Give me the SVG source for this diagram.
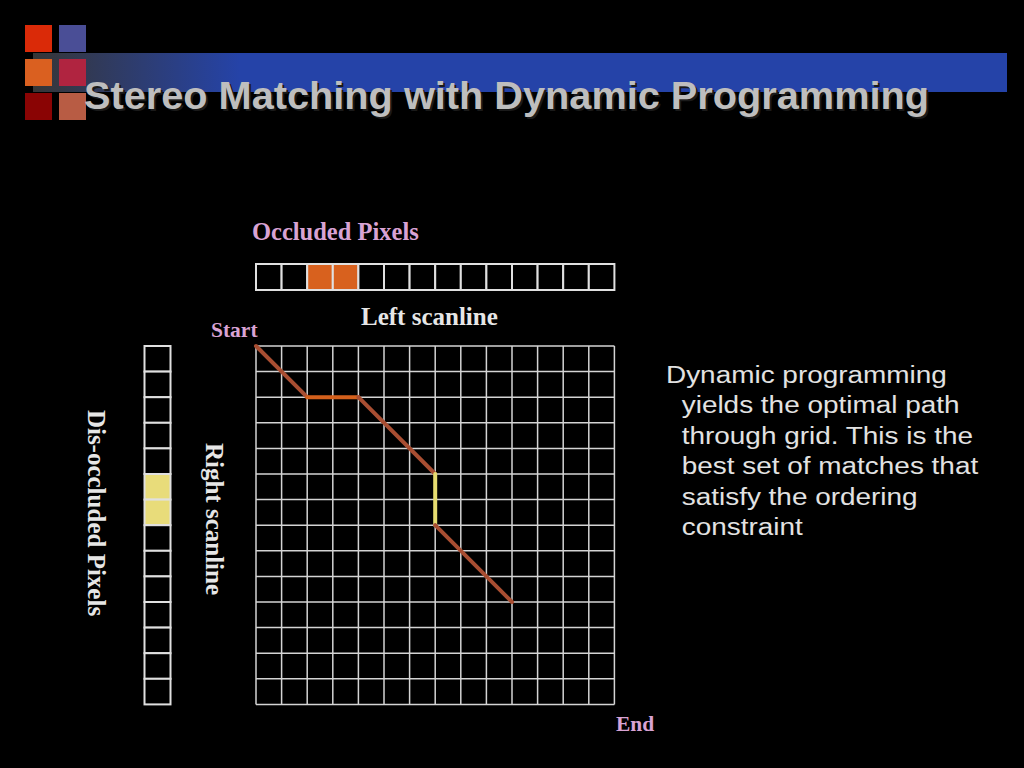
<svg xmlns="http://www.w3.org/2000/svg" width="1024" height="768" viewBox="0 0 1024 768">
  <defs>
    <linearGradient id="band" gradientUnits="userSpaceOnUse" x1="33" y1="0" x2="240" y2="0">
      <stop offset="0" stop-color="#363636"/>
      <stop offset="1" stop-color="#2543A8"/>
    </linearGradient>
    <style>
      .title { font-family: "Liberation Sans", Arial, sans-serif; font-weight: bold; font-size: 39px; }
      .lbl { font-family: "Liberation Serif", "Times New Roman", serif; font-weight: bold; font-size: 25px; fill: #E6E6E6; }
      .pink { fill: #D9A3D4; }
      .small { font-size: 21.5px; }
      .body { font-family: "Liberation Sans", Arial, sans-serif; font-size: 24.5px; fill: #E2E2E2; }
      .cell { fill: #000; stroke: #E0E0E0; stroke-width: 2; }
      .grid line { stroke: #D4D4D4; stroke-width: 1.5; }
      .seg { fill: none; stroke-width: 4; stroke-linecap: round; stroke-linejoin: round; }
    </style>
  </defs>
  <rect width="1024" height="768" fill="#000"/>

  <g id="title-decor">
    <rect x="33" y="53" width="974" height="39" fill="url(#band)"/>
    <rect x="25" y="25" width="27" height="27" fill="#DA2A08"/>
    <rect x="59" y="25" width="27" height="27" fill="#4A4E96"/>
    <rect x="25" y="59" width="27" height="27" fill="#DA6020"/>
    <rect x="59" y="59" width="27" height="27" fill="#B02440"/>
    <rect x="25" y="93" width="27" height="27" fill="#8A0404"/>
    <rect x="59" y="93" width="27" height="27" fill="#B85C44"/>
  </g>
  <g id="title">
    <text class="title" x="86" y="111" fill="#1A1A1A" textLength="845" lengthAdjust="spacingAndGlyphs">Stereo Matching with Dynamic Programming</text>
    <text class="title" x="84" y="109" fill="#BEBEBE" textLength="845" lengthAdjust="spacingAndGlyphs">Stereo Matching with Dynamic Programming</text>
  </g>

  <g id="left-scanline">
    <rect class="cell" x="256" y="264" width="25.6" height="26"/>
    <rect class="cell" x="281.6" y="264" width="25.6" height="26"/>
    <rect class="cell" x="307.2" y="264" width="25.6" height="26" style="fill:#D8611E"/>
    <rect class="cell" x="332.8" y="264" width="25.6" height="26" style="fill:#D8611E"/>
    <rect class="cell" x="358.4" y="264" width="25.6" height="26"/>
    <rect class="cell" x="384" y="264" width="25.6" height="26"/>
    <rect class="cell" x="409.6" y="264" width="25.6" height="26"/>
    <rect class="cell" x="435.2" y="264" width="25.6" height="26"/>
    <rect class="cell" x="460.8" y="264" width="25.6" height="26"/>
    <rect class="cell" x="486.4" y="264" width="25.6" height="26"/>
    <rect class="cell" x="512" y="264" width="25.6" height="26"/>
    <rect class="cell" x="537.6" y="264" width="25.6" height="26"/>
    <rect class="cell" x="563.2" y="264" width="25.6" height="26"/>
    <rect class="cell" x="588.8" y="264" width="25.6" height="26"/>
  </g>

  <g id="right-scanline">
    <rect class="cell" x="144.5" y="346" width="26" height="25.6"/>
    <rect class="cell" x="144.5" y="371.6" width="26" height="25.6"/>
    <rect class="cell" x="144.5" y="397.2" width="26" height="25.6"/>
    <rect class="cell" x="144.5" y="422.8" width="26" height="25.6"/>
    <rect class="cell" x="144.5" y="448.4" width="26" height="25.6"/>
    <rect class="cell" x="144.5" y="474" width="26" height="25.6" style="fill:#E8DC7A"/>
    <rect class="cell" x="144.5" y="499.6" width="26" height="25.6" style="fill:#E8DC7A"/>
    <rect class="cell" x="144.5" y="525.2" width="26" height="25.6"/>
    <rect class="cell" x="144.5" y="550.8" width="26" height="25.6"/>
    <rect class="cell" x="144.5" y="576.4" width="26" height="25.6"/>
    <rect class="cell" x="144.5" y="602" width="26" height="25.6"/>
    <rect class="cell" x="144.5" y="627.6" width="26" height="25.6"/>
    <rect class="cell" x="144.5" y="653.2" width="26" height="25.6"/>
    <rect class="cell" x="144.5" y="678.8" width="26" height="25.6"/>
  </g>

  <g id="grid" class="grid">
    <line x1="256" y1="346" x2="256" y2="704.4"/>
    <line x1="281.6" y1="346" x2="281.6" y2="704.4"/>
    <line x1="307.2" y1="346" x2="307.2" y2="704.4"/>
    <line x1="332.8" y1="346" x2="332.8" y2="704.4"/>
    <line x1="358.4" y1="346" x2="358.4" y2="704.4"/>
    <line x1="384" y1="346" x2="384" y2="704.4"/>
    <line x1="409.6" y1="346" x2="409.6" y2="704.4"/>
    <line x1="435.2" y1="346" x2="435.2" y2="704.4"/>
    <line x1="460.8" y1="346" x2="460.8" y2="704.4"/>
    <line x1="486.4" y1="346" x2="486.4" y2="704.4"/>
    <line x1="512" y1="346" x2="512" y2="704.4"/>
    <line x1="537.6" y1="346" x2="537.6" y2="704.4"/>
    <line x1="563.2" y1="346" x2="563.2" y2="704.4"/>
    <line x1="588.8" y1="346" x2="588.8" y2="704.4"/>
    <line x1="614.4" y1="346" x2="614.4" y2="704.4"/>
    <line x1="256" y1="346" x2="614.4" y2="346"/>
    <line x1="256" y1="371.6" x2="614.4" y2="371.6"/>
    <line x1="256" y1="397.2" x2="614.4" y2="397.2"/>
    <line x1="256" y1="422.8" x2="614.4" y2="422.8"/>
    <line x1="256" y1="448.4" x2="614.4" y2="448.4"/>
    <line x1="256" y1="474" x2="614.4" y2="474"/>
    <line x1="256" y1="499.6" x2="614.4" y2="499.6"/>
    <line x1="256" y1="525.2" x2="614.4" y2="525.2"/>
    <line x1="256" y1="550.8" x2="614.4" y2="550.8"/>
    <line x1="256" y1="576.4" x2="614.4" y2="576.4"/>
    <line x1="256" y1="602" x2="614.4" y2="602"/>
    <line x1="256" y1="627.6" x2="614.4" y2="627.6"/>
    <line x1="256" y1="653.2" x2="614.4" y2="653.2"/>
    <line x1="256" y1="678.8" x2="614.4" y2="678.8"/>
    <line x1="256" y1="704.4" x2="614.4" y2="704.4"/>
  </g>

  <g id="connectors">
    <path class="seg" stroke="#A84E32" d="M256,346 L307.2,397.2"/>
    <path class="seg" stroke="#D4601C" d="M307.2,397.2 L358.4,397.2"/>
    <path class="seg" stroke="#A84E32" d="M358.4,397.2 L435.2,474"/>
    <path class="seg" stroke="#E6DC70" d="M435.2,474 L435.2,525.2"/>
    <path class="seg" stroke="#A84E32" d="M435.2,525.2 L512,602"/>
  </g>

  <g id="labels">
    <text class="lbl pink" x="252" y="239.5" style="font-size:24.5px">Occluded Pixels</text>
    <text class="lbl" x="361" y="325">Left scanline</text>
    <text class="lbl pink small" x="211" y="336.5">Start</text>
    <text class="lbl pink small" x="616" y="731">End</text>
    <text class="lbl" transform="translate(206,519) rotate(90)" text-anchor="middle">Right scanline</text>
    <text class="lbl" transform="translate(88,513) rotate(90)" text-anchor="middle">Dis-occluded Pixels</text>
  </g>

  <g id="description" class="body" transform="scale(1.14,1)">
    <text x="584.2" y="383">Dynamic programming</text>
    <text x="598" y="413.5">yields the optimal path</text>
    <text x="598" y="444">through grid. This is the</text>
    <text x="598" y="474.5">best set of matches that</text>
    <text x="598" y="505">satisfy the ordering</text>
    <text x="598" y="535.5">constraint</text>
  </g>
</svg>
